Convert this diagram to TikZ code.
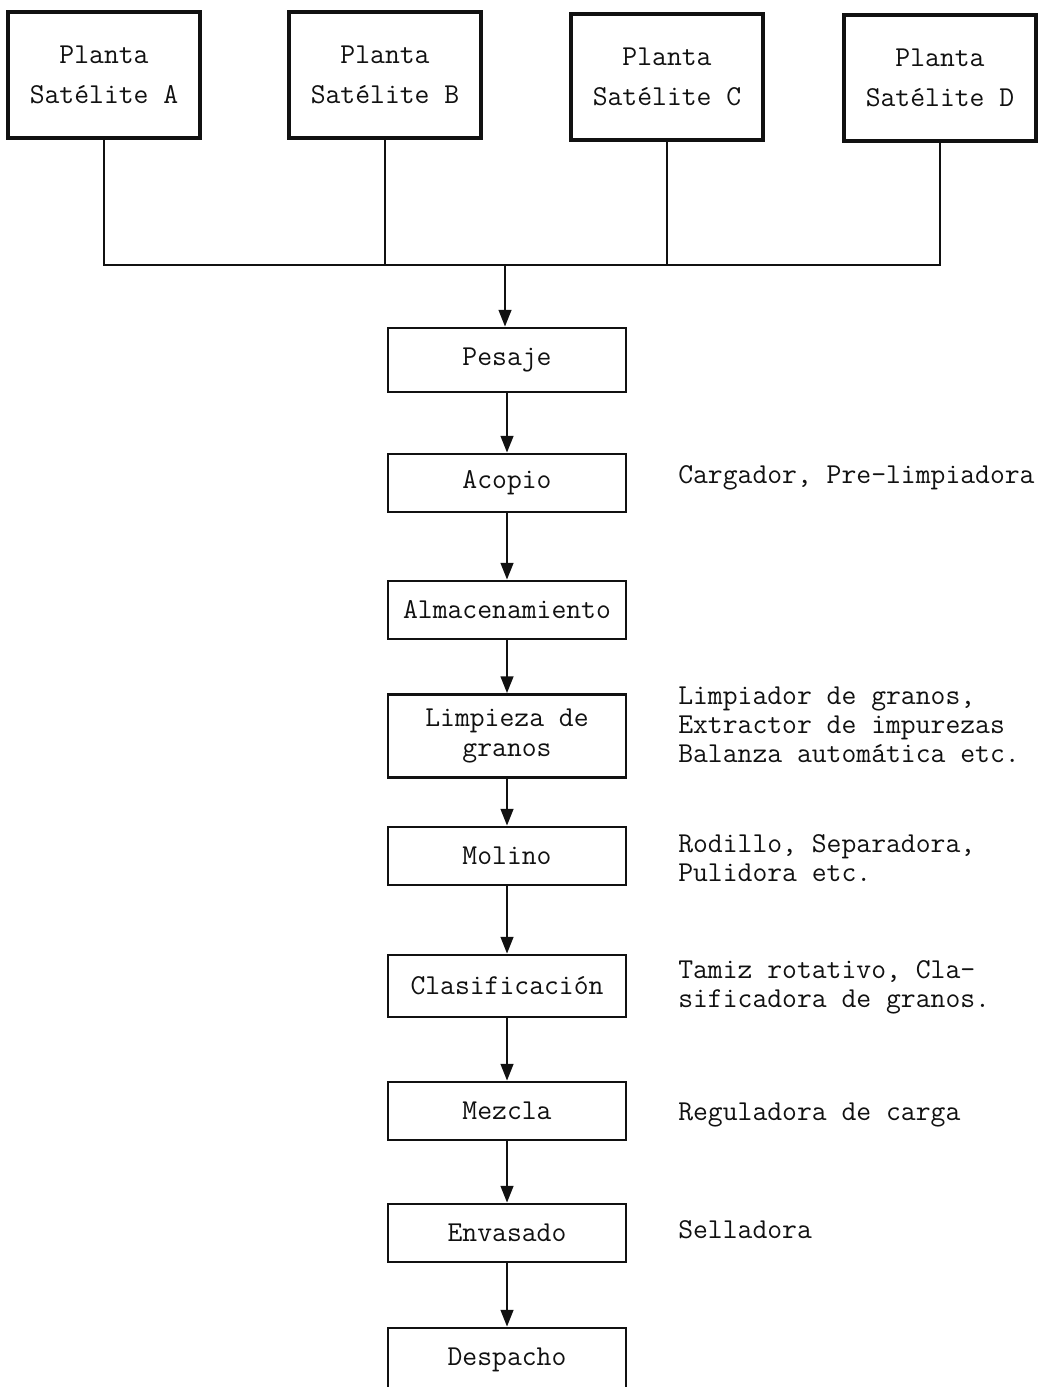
\documentclass[tikz,border=0pt]{standalone}
\usepackage{tikz}
\usetikzlibrary{arrows.meta}
\usepackage{xcolor}
\definecolor{paper}{HTML}{FFFFFF}
\definecolor{ink}{HTML}{111111}

\begin{document}
\begin{tikzpicture}[
    x=0.025cm, y=-0.025cm,
    plant node/.style={rectangle,draw=ink,line width=2.2pt,fill=paper,text=ink,
      minimum width=4.8cm,minimum height=3.15cm,align=center,
      font=\ttfamily\fontsize{20.5}{28.5}\selectfont},
    rect node/.style={rectangle,draw=ink,line width=2pt,fill=paper,text=ink,
      minimum width=5.95cm,minimum height=1.45cm,align=center,
      font=\ttfamily\fontsize{20.5}{22}\selectfont},
    note node/.style={anchor=west,text=ink,align=left,inner sep=0pt,
      font=\ttfamily\fontsize{20.5}{20.6}\selectfont},
    link/.style={draw=ink,line width=1.4pt},
    flow/.style={link,-{Triangle[length=0.42cm,width=0.32cm]}}
  ]
  \useasboundingbox[fill=paper] (0,0) rectangle (1054,1387);

  % satellite plants
  \node[plant node] (pa) at (104,75) {Planta\\Satélite A};
  \node[plant node] (pb) at (385,75) {Planta\\Satélite B};
  \node[plant node] (pc) at (667,77) {Planta\\Satélite C};
  \node[plant node] (pd) at (940,78) {Planta\\Satélite D};
  \coordinate (bus) at (505,265);

  % process chain
  \node[rect node,minimum height=1.6cm] (pesaje) at (507,360) {Pesaje};
  \node[rect node] (acopio) at (507,483) {Acopio};
  \node[rect node] (almac) at (507,610) {Almacenamiento};
  \node[rect node,minimum height=2.075cm] (limpieza) at (507,736) {Limpieza de\\granos};
  \node[rect node] (molino) at (507,856) {Molino};
  \node[rect node,minimum height=1.55cm] (clasif) at (507,986) {Clasificación};
  \node[rect node] (mezcla) at (507,1111) {Mezcla};
  \node[rect node] (envasado) at (507,1233) {Envasado};
  \node[rect node,minimum height=1.6cm] (despacho) at (507,1360) {Despacho};

  % equipment notes
  \node[note node] (n1) at (678,478) {Cargador, Pre-limpiadora};
  \node[note node] (n2) at (678,725) {Limpiador de granos,\\Extractor de impurezas\\Balanza automática etc.};
  \node[note node] (n3) at (678,858) {Rodillo, Separadora,\\Pulidora etc.};
  \node[note node] (n4) at (678,987) {Tamiz rotativo, Cla-\\sificadora de granos.};
  \node[note node] (n5) at (678,1115) {Reguladora de carga};
  \node[note node] (n6) at (678,1230) {Selladora};

  % connectors
  \draw[link] (pa.south) -- (pa.south |- bus) -- (pd.south |- bus) -- (pd.south);
  \draw[link] (pb.south) -- (pb.south |- bus);
  \draw[link] (pc.south) -- (pc.south |- bus);
  \draw[flow] (bus) -- (pesaje.north -| bus);
  \foreach \a/\b in {pesaje/acopio,acopio/almac,almac/limpieza,limpieza/molino,
                     molino/clasif,clasif/mezcla,mezcla/envasado,envasado/despacho}
    \draw[flow] (\a) -- (\b);
\end{tikzpicture}
\end{document}
